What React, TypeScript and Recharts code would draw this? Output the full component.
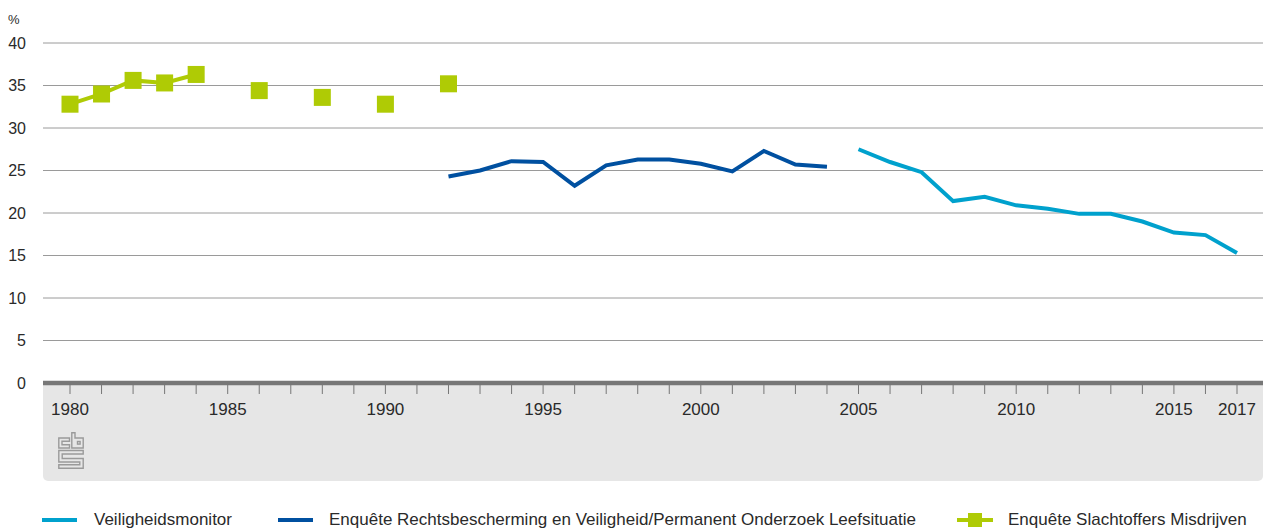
import React from 'react';
import { ComposedChart, Line, XAxis, YAxis, CartesianGrid } from 'recharts';

const monitorYears = [2005, 2006, 2007, 2008, 2009, 2010, 2011, 2012, 2013, 2014, 2015, 2016, 2017];
const monitorValues = [27.5, 26.0, 24.8, 21.4, 21.9, 20.9, 20.5, 19.9, 19.9, 19.0, 17.7, 17.4, 15.3];

const ervPolsYears = [1992, 1993, 1994, 1995, 1996, 1997, 1998, 1999, 2000, 2001, 2002, 2003, 2004];
const ervPolsValues = [24.3, 25.0, 26.1, 26.0, 23.2, 25.6, 26.3, 26.3, 25.8, 24.9, 27.3, 25.7, 25.45];

const esmYears = [1980, 1981, 1982, 1983, 1984, 1986, 1988, 1990, 1992];
const esmValues = [32.8, 34.0, 35.6, 35.3, 36.3, 34.4, 33.6, 32.8, 35.2];

const yTicks = [0, 5, 10, 15, 20, 25, 30, 35, 40];
const xLabels = [1980, 1985, 1990, 1995, 2000, 2005, 2010, 2015, 2017];

const seriesNames = {
  monitor: 'Veiligheidsmonitor',
  ervPols: 'Enquête Rechtsbescherming en Veiligheid/Permanent Onderzoek Leefsituatie',
  esm: 'Enquête Slachtoffers Misdrijven',
};

const colors = { monitor: '#00a1cd', ervPols: '#0050a0', esm: '#afcb05' };
const FONT = '"Liberation Sans", Arial, sans-serif';
const TEXT = '#2a2a2a';

const allYears: number[] = [];
for (let y = 1980; y <= 2017; y++) allYears.push(y);

const data = allYears.map(year => {
  const pick = (ys: number[], vs: number[]) => {
    const i = ys.indexOf(year);
    return i >= 0 ? vs[i] : null;
  };
  return {
    year,
    monitor: pick(monitorYears, monitorValues),
    ervPols: pick(ervPolsYears, ervPolsValues),
    esm: pick(esmYears, esmValues),
  };
});

const SquareDot = (props: any) => {
  const { cx, cy, value } = props;
  if (value == null || cx == null || cy == null) return null;
  return <rect x={cx - 8.5} y={cy - 8.5} width={17} height={17} fill={colors.esm} />;
};

const YTick = (props: any) => {
  const { x, y, payload } = props;
  return (
    <text
      x={x - 17}
      y={y}
      textAnchor="end"
      dominantBaseline="central"
      fontSize={16}
      fontWeight={400}
      stroke="none"
      fill={TEXT}
      fontFamily={FONT}
    >
      {payload.value}
    </text>
  );
};

const legendText: React.CSSProperties = {
  position: 'absolute',
  top: 509,
  fontSize: 17,
  color: TEXT,
  fontFamily: FONT,
  whiteSpace: 'nowrap',
  lineHeight: '22px',
};

const App: React.FC = () => {
  return (
    <div style={{ position: 'absolute', left: 0, top: 0, width: 1263, height: 531, background: '#fff' }}>
      {/* gray footer band under the axis */}
      <div
        style={{
          position: 'absolute',
          left: 43,
          top: 383,
          width: 1220,
          height: 98,
          background: '#e6e6e6',
          borderBottomLeftRadius: 5,
          borderBottomRightRadius: 5,
        }}
      />
      <svg width={26} height={37} style={{ position: 'absolute', left: 58, top: 432 }}>
        <g fill="none" stroke="#9a9a9a" strokeWidth={1.4}>
          <path d="M11.5 6 H0.8 V16 H11.5 V12.8 H4 V9.2 H11.5 Z" />
          <path d="M13.8 0.8 V16 H25.2 V6 H17 V0.8 Z" />
          <rect x={19.5} y={9.5} width={2.6} height={2.6} />
          <path d="M0.8 18.5 H25.2 V22 H4.2 V26.5 H25.2 V36.2 H0.8 V32.7 H21.8 V30 H0.8 Z" />
        </g>
      </svg>
      <div style={{ position: 'absolute', left: 8, top: 12, fontSize: 13, color: TEXT, fontFamily: FONT }}>%</div>

      <div style={{ position: 'absolute', left: 0, top: 0 }}>
        <ComposedChart width={1263} height={531} data={data} margin={{ top: 43, right: 0, left: 0, bottom: 48 }}>
          <CartesianGrid horizontal vertical={false} stroke="#9a9a9a" strokeWidth={1} />
          <XAxis
            dataKey="year"
            type="number"
            domain={[1980, 2017]}
            ticks={allYears}
            interval={0}
            padding={{ left: 27, right: 26 }}
            height={100}
            axisLine={{ stroke: '#777', strokeWidth: 4.5 }}
            tickLine={{ stroke: '#777' }}
            tickSize={11}
            tickMargin={9}
            tick={{ fontSize: 17, fill: TEXT, fontFamily: FONT }}
            tickFormatter={(v: number) => (xLabels.includes(v) ? String(v) : '')}
          />
          <YAxis
            domain={[0, 40]}
            ticks={yTicks}
            width={43}
            axisLine={false}
            tickLine={false}
            tickSize={0}
            tickMargin={0}
            tick={<YTick />}
          />
          <Line
            dataKey="monitor"
            stroke={colors.monitor}
            strokeWidth={4}
            dot={false}
            activeDot={false}
            isAnimationActive={false}
            type="linear"
          />
          <Line
            dataKey="ervPols"
            stroke={colors.ervPols}
            strokeWidth={4}
            dot={false}
            activeDot={false}
            isAnimationActive={false}
            type="linear"
          />
          <Line
            dataKey="esm"
            stroke={colors.esm}
            strokeWidth={4}
            dot={<SquareDot />}
            activeDot={false}
            isAnimationActive={false}
            type="linear"
          />
        </ComposedChart>
      </div>

      {/* legend */}
      <div style={{ position: 'absolute', left: 42, top: 518, width: 35, height: 4, background: colors.monitor }} />
      <div style={{ ...legendText, left: 94 }}>{seriesNames.monitor}</div>
      <div style={{ position: 'absolute', left: 278, top: 518, width: 35, height: 4, background: colors.ervPols }} />
      <div style={{ ...legendText, left: 329 }}>{seriesNames.ervPols}</div>
      <div style={{ position: 'absolute', left: 957, top: 518, width: 36, height: 4, background: colors.esm }} />
      <div style={{ position: 'absolute', left: 968, top: 513, width: 14, height: 14, background: colors.esm }} />
      <div style={{ ...legendText, left: 1008 }}>{seriesNames.esm}</div>
    </div>
  );
};

export default App;
